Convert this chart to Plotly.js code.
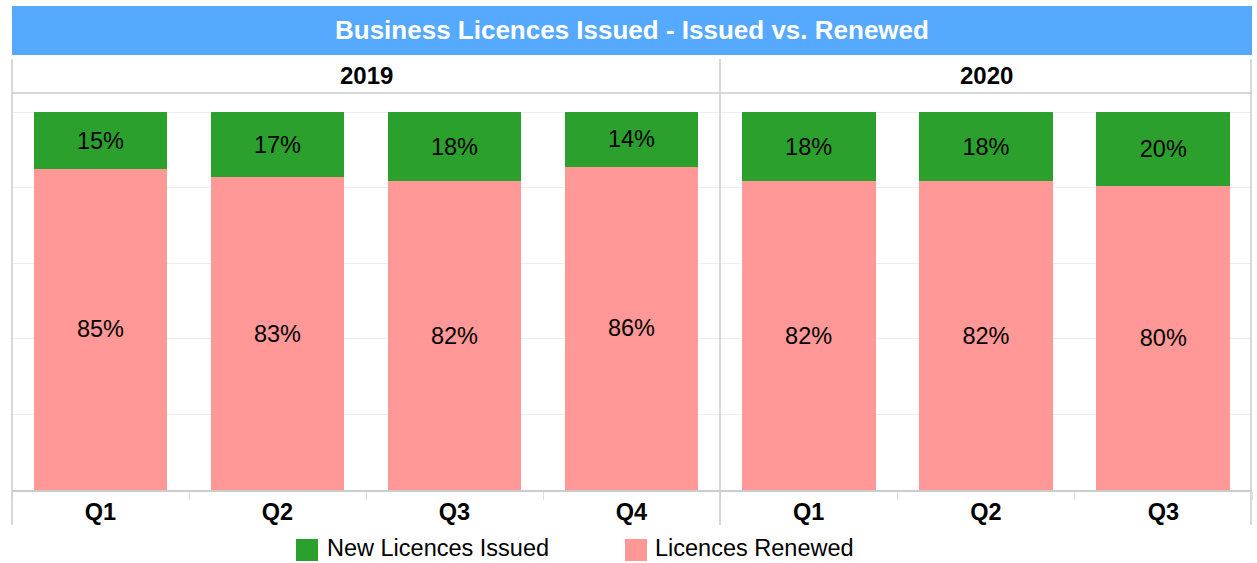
<!DOCTYPE html>
<html>
<head>
<meta charset="utf-8">
<script src="https://cdn.plot.ly/plotly-3.0.1.min.js"></script>
<style>html,body{margin:0;padding:0;background:#fff;}#chart{width:1257px;height:563px;}</style>
</head>
<body>
<div id="chart"></div>
<script>
// ---- data ----
const chartTitle = "Business Licences Issued - Issued vs. Renewed";
const years = ["2019", "2020"];
const quarters2019 = ["Q1", "Q2", "Q3", "Q4"];
const quarters2020 = ["Q1", "Q2", "Q3"];
const renewed2019 = [0.850, 0.828, 0.818, 0.856];
const newIssued2019 = [0.150, 0.172, 0.182, 0.144];
const renewed2020 = [0.818, 0.818, 0.8045];
const newIssued2020 = [0.182, 0.182, 0.1955];
const seriesNames = ["New Licences Issued", "Licences Renewed"];
const seriesColors = ["#2ca02c", "#ff9896"];

// ---- layout helpers ----
const W = 1257, H = 563;
const px = x => x / W;
const py = y => 1 - y / H;
const FONT = "Liberation Sans, Arial, sans-serif";
const labelFont = {family: FONT, size: 23.5, color: "#000"};

function barTrace(xs, ys, name, color, xaxis) {
  return {
    type: "bar", x: xs, y: ys, name: name, xaxis: xaxis, yaxis: "y",
    marker: {color: color, line: {width: 0}},
    texttemplate: "%{y:.0%}", textposition: "inside", insidetextanchor: "middle",
    textangle: 0, constraintext: "none",
    textfont: labelFont, insidetextfont: labelFont,
    hoverinfo: "x+y+name", showlegend: false
  };
}

const traces = [
  barTrace(quarters2019, renewed2019, seriesNames[1], seriesColors[1], "x"),
  barTrace(quarters2019, newIssued2019, seriesNames[0], seriesColors[0], "x"),
  barTrace(quarters2020, renewed2020, seriesNames[1], seriesColors[1], "x2"),
  barTrace(quarters2020, newIssued2020, seriesNames[0], seriesColors[0], "x2")
];

const xCommon = {
  type: "category", anchor: "y", tickson: "boundaries", ticks: "outside",
  ticklen: 8, tickcolor: "#e0e0e0", tickwidth: 1,
  showline: true, linecolor: "#cccccc", linewidth: 1.5,
  showgrid: false, zeroline: false, fixedrange: true,
  tickfont: {family: FONT, size: 23.5, color: "#000", weight: "bold"}
};

const border = "#cccccc";
const shapes = [
  {type: "rect", xref: "paper", yref: "paper", x0: px(12), x1: px(1252), y0: py(55), y1: py(6), fillcolor: "#55a9ff", line: {width: 0}, layer: "below"},
  {type: "line", xref: "paper", yref: "paper", x0: px(12), x1: px(12), y0: py(525), y1: py(59), line: {color: border, width: 1.5}},
  {type: "line", xref: "paper", yref: "paper", x0: px(720), x1: px(720), y0: py(525), y1: py(59), line: {color: border, width: 1.5}},
  {type: "line", xref: "paper", yref: "paper", x0: px(1251), x1: px(1251), y0: py(525), y1: py(59), line: {color: border, width: 1.5}},
  {type: "line", xref: "paper", yref: "paper", x0: px(12), x1: px(1252), y0: py(93), y1: py(93), line: {color: border, width: 1.5}},
  // legend swatches
  {type: "rect", xref: "paper", yref: "paper", x0: px(296), x1: px(318), y0: py(561), y1: py(539), fillcolor: seriesColors[0], line: {width: 0}},
  {type: "rect", xref: "paper", yref: "paper", x0: px(625), x1: px(647), y0: py(561), y1: py(539), fillcolor: seriesColors[1], line: {width: 0}}
];

const annotations = [
  {text: "<b>" + chartTitle + "</b>", xref: "paper", yref: "paper", x: px(632), y: py(30), showarrow: false,
   font: {family: FONT, size: 26, color: "#fff"}, xanchor: "center", yanchor: "middle"},
  {text: "<b>" + years[0] + "</b>", xref: "paper", yref: "paper", x: px(366), y: py(76), showarrow: false,
   font: {family: FONT, size: 24, color: "#000"}, xanchor: "center", yanchor: "middle"},
  {text: "<b>" + years[1] + "</b>", xref: "paper", yref: "paper", x: px(986), y: py(76), showarrow: false,
   font: {family: FONT, size: 24, color: "#000"}, xanchor: "center", yanchor: "middle"},
  {text: seriesNames[0], xref: "paper", yref: "paper", x: px(326), y: py(547.5), showarrow: false, borderpad: 0,
   font: {family: FONT, size: 23.5, color: "#000"}, xanchor: "left", yanchor: "middle"},
  {text: seriesNames[1], xref: "paper", yref: "paper", x: px(654), y: py(547.5), showarrow: false, borderpad: 0,
   font: {family: FONT, size: 23.5, color: "#000"}, xanchor: "left", yanchor: "middle"}
];

const layout = {
  width: W, height: H, margin: {l: 0, r: 0, t: 0, b: 0, pad: 0},
  paper_bgcolor: "#fff", plot_bgcolor: "rgba(0,0,0,0)",
  barmode: "stack", bargap: 0.243, showlegend: false,
  font: {family: FONT},
  xaxis: Object.assign({}, xCommon, {domain: [px(12), px(720)]}),
  xaxis2: Object.assign({}, xCommon, {domain: [px(720), px(1252)]}),
  yaxis: {domain: [py(490), py(93)], range: [0, 1.051], dtick: 0.2, tick0: 0,
    showgrid: true, gridcolor: "#eeeeee", gridwidth: 1,
    showticklabels: false, zeroline: false, showline: false, fixedrange: true},
  shapes: shapes, annotations: annotations
};

Plotly.newPlot("chart", traces, layout, {displayModeBar: false, staticPlot: true});
</script>
</body>
</html>
